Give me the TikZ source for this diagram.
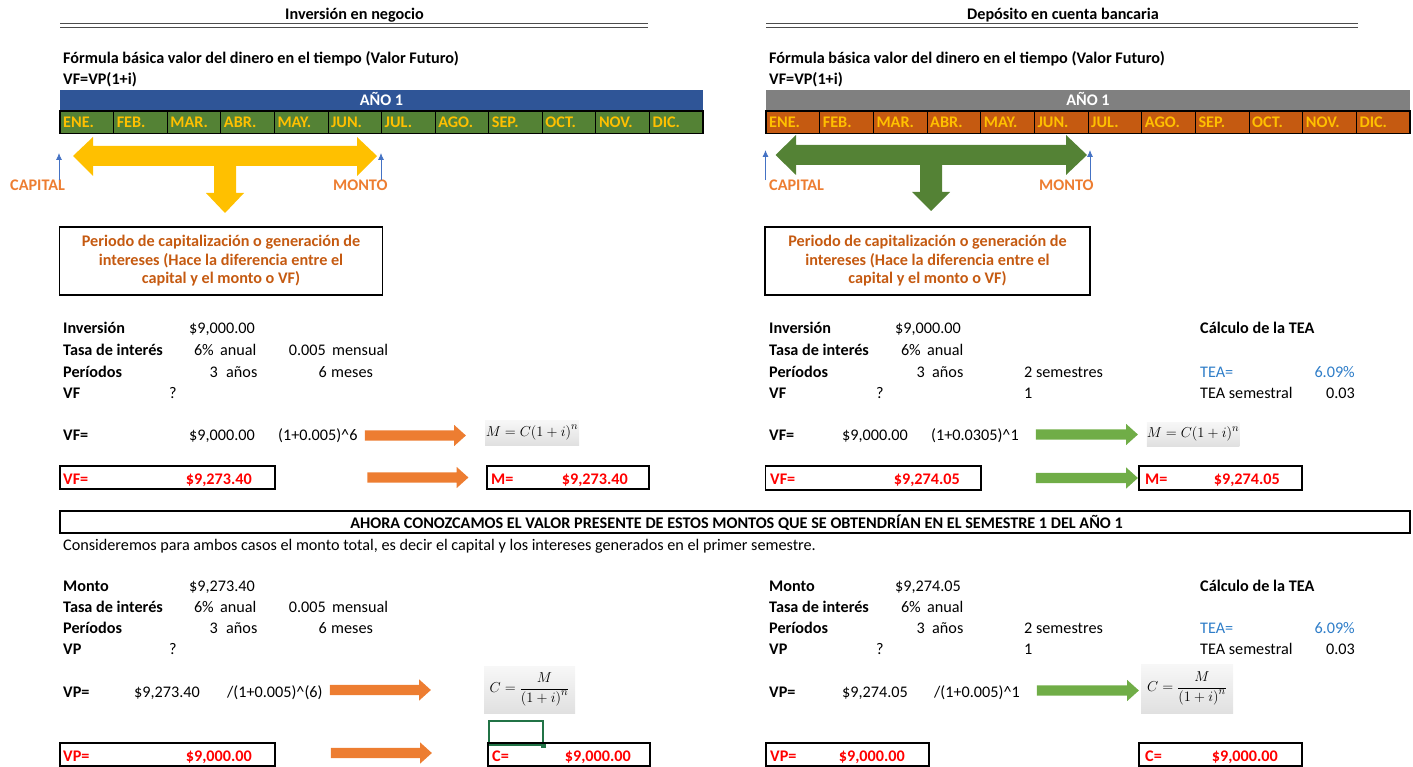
\documentclass[tikz,border=0pt]{standalone}
\usepackage{fontspec}
\setmainfont{Carlito}
\usetikzlibrary{positioning, arrows.meta, shapes.arrows, calc}
\definecolor{xlblue}{RGB}{47,85,151}
\definecolor{xlgreen}{RGB}{84,130,53}
\definecolor{xlgold}{RGB}{255,192,0}
\definecolor{xlgrey}{RGB}{128,128,128}
\definecolor{xlrust}{RGB}{197,90,17}
\definecolor{xlorange}{RGB}{237,125,49}
\definecolor{xllime}{RGB}{112,173,71}
\definecolor{xlsky}{RGB}{68,114,196}
\definecolor{xltea}{RGB}{46,125,200}
\definecolor{xlsel}{RGB}{33,115,70}
\newcommand\cellfont{\fontsize{16.2}{18.5}\selectfont}
\tikzset{
    head/.style={font=\cellfont\bfseries, anchor=base, inner sep=0pt},
    lbl/.style={font=\cellfont\bfseries, anchor=base west, inner sep=0pt},
    txt/.style={font=\cellfont, anchor=base west, inner sep=0pt},
    num/.style={font=\cellfont, anchor=base east, inner sep=0pt},
    month/.style={font=\cellfont\bfseries, text=xlgold, anchor=base west, inner sep=0pt},
    capmon/.style={font=\cellfont\bfseries, text=xlorange, anchor=base west, inner sep=0pt},
    redtxt/.style={font=\cellfont\bfseries, text=red, inner sep=0pt},
    cell/.style={draw, line width=0.8pt},
    dline/.style={draw=gray!60!black, line width=0.9pt},
    skyline/.style={draw=xlsky, line width=0.8pt},
    notebox/.style={draw, line width=1.8pt, minimum width=323, minimum height=68, align=center,
        font=\cellfont\bfseries, text=xlrust, inner sep=0pt},
    resbox/.style={draw, line width=1.8pt, minimum height=23.5, inner sep=0pt},
    bandbox/.style={draw, line width=1.8pt, minimum width=1350, minimum height=22.5, inner sep=0pt},
    fatarrow/.style={single arrow, fill=#1, inner xsep=0pt, inner ysep=5pt,
        single arrow head extend=5.5pt, single arrow tip angle=84, minimum height=101},
    formula/.style={inner sep=0pt, top color=gray!6, bottom color=gray!24,
        font=\fontsize{15}{17}\selectfont}
}

\begin{document}
\begin{tikzpicture}[x=1pt, y=-1pt, >={Latex[length=7pt, width=6pt]}]
  \useasboundingbox (0,0) rectangle (1413,767);

  % ---- Inversion en negocio
  \node(invT)[head] at (354.5,20){Inversión en negocio};
  \draw[dline] (60,23.5) -- (648,23.5);
  \draw[dline] (60,27) -- (648,27);
  \node(invF)[lbl] at (63,64){Fórmula básica valor del dinero en el tiempo (Valor Futuro)};
  \node(invE)[lbl] at (63,85){VF=VP(1+i)};

  \fill[xlblue] (60,90) rectangle (703,111);
  \node(invY)[head, text=white] at (381.5,106){AÑO 1};
  \fill[xlgreen] (60,111) rectangle (703,133.5);
  \foreach \m [count=\k from 0] in {ENE.,FEB.,MAR.,ABR.,MAY.,JUN.,JUL.,AGO.,SEP.,OCT.,NOV.,DIC.}{
    \draw[cell] ({60+\k*53.58},111) rectangle +(53.58,22.5);
    \node(invM\k)[month] at ({63+\k*53.58},127.5){\m};
  }
  \draw[line width=1.8pt] (60,111) rectangle (703,133.5);

  \fill[xlgold] (73,156) -- (93,137) -- (93,146) -- (357,146) -- (357,137) -- (377,156)
    -- (357,176) -- (357,166) -- (236,166) -- (236,193) -- (244,193) -- (225,213)
    -- (206,193) -- (214,193) -- (214,166) -- (93,166) -- (93,176) -- cycle;

  \node(invC)[capmon] at (10,191){CAPITAL};
  \node(invMo)[capmon] at (333,191){MONTO};
  \coordinate(invCt) at (59,153);
  \coordinate(invMt) at (381,153);
  \draw[skyline, ->] (invC.north -| invCt) -- (invCt);
  \draw[skyline, ->] (invMo.north -| invMt) -- (invMt);

  \node(invN)[notebox] at (221,261){Periodo de capitalización o generación de\\
    intereses (Hace la diferencia entre el\\ capital y el monto o VF)};

  \node(invI)[lbl] at (63,333){Inversión};
  \node(invIv)[num] at (255,333){\$9,000.00};
  \node(invTa)[lbl] at (63,355){Tasa de interés};
  \node(invTp)[num] at (214,355){6\%};
  \node(invTan)[txt] at (220,355){anual};
  \node(invTm)[num] at (326,355){0.005};
  \node(invTme)[txt] at (332,355){mensual};
  \node(invP)[lbl] at (63,377){Períodos};
  \node(invPa)[num] at (218,377){3};
  \node(invPan)[txt] at (226,377){años};
  \node(invPm)[num] at (327,377){6};
  \node(invPme)[txt] at (331,377){meses};
  \node(invV)[lbl] at (63,398){VF};
  \node(invQ)[txt] at (169,398){?};

  \node(invVe)[lbl] at (63,440){VF=};
  \node(invVc)[num] at (255,440){\$9,000.00};
  \node(invVf)[txt] at (278,440){(1+0.005)\textasciicircum6};
  \node(invA1)[fatarrow=xlorange] at (412.5,435.5){};
  \node(invF1)[formula, minimum width=94, minimum height=25] at (532,432.5){$M = C\bigl(1+i\bigr)^{n}$};

  \node(invR1)[resbox, minimum width=215] at (167.5,477.5){};
  \node(invR1a)[redtxt, anchor=base west] at (63,484){VF=};
  \node(invR1b)[redtxt, anchor=base east] at (252,484){\$9,273.40};
  \node(invA2)[fatarrow=xlorange] at (415,477.5){};
  \node(invR2)[resbox, minimum width=162] at (568,477.5){};
  \node(invR2a)[redtxt, anchor=base west] at (491,484){M=};
  \node(invR2b)[redtxt, anchor=base east] at (628,484){\$9,273.40};

  % ---- Deposito en cuenta bancaria
  \node(depT)[head] at (1063,20){Depósito en cuenta bancaria};
  \draw[dline] (766,23.5) -- (1358,23.5);
  \draw[dline] (766,27) -- (1358,27);
  \node(depF)[lbl] at (769,64){Fórmula básica valor del dinero en el tiempo (Valor Futuro)};
  \node(depE)[lbl] at (769,85){VF=VP(1+i)};

  \fill[xlgrey] (766,90) rectangle (1410,111);
  \node(depY)[head, text=white] at (1088,106){AÑO 1};
  \fill[xlrust] (766,111) rectangle (1410,133.5);
  \foreach \m [count=\k from 0] in {ENE.,FEB.,MAR.,ABR.,MAY.,JUN.,JUL.,AGO.,SEP.,OCT.,NOV.,DIC.}{
    \draw[cell] ({766+\k*53.67},111) rectangle +(53.67,22.5);
    \node(depM\k)[month] at ({769+\k*53.67},127.5){\m};
  }
  \draw[line width=1.8pt] (766,111) rectangle (1410,133.5);

  \fill[xlgreen] (775.5,155) -- (796,135) -- (796,145) -- (1066,145) -- (1066,135) -- (1087,155)
    -- (1066,175) -- (1066,165) -- (942,165) -- (942,192) -- (950,192) -- (931,211)
    -- (912,192) -- (920,192) -- (920,165) -- (796,165) -- (796,175) -- cycle;

  \node(depC)[capmon] at (769,191){CAPITAL};
  \node(depMo)[capmon] at (1039,191){MONTO};
  \coordinate(depCt) at (765.5,150);
  \coordinate(depMt) at (1090,150);
  \draw[skyline, ->] (depC.north -| depCt) -- (depCt);
  \draw[skyline, ->] (depMo.north -| depMt) -- (depMt);

  \node(depN)[notebox, minimum width=325] at (927.5,261){Periodo de capitalización o generación de\\
    intereses (Hace la diferencia entre el\\ capital y el monto o VF)};

  \node(depI)[lbl] at (769,333){Inversión};
  \node(depIv)[num] at (961,333){\$9,000.00};
  \node(depTa)[lbl] at (769,355){Tasa de interés};
  \node(depTp)[num] at (921,355){6\%};
  \node(depTan)[txt] at (927,355){anual};
  \node(depP)[lbl] at (769,377){Períodos};
  \node(depPa)[num] at (925,377){3};
  \node(depPan)[txt] at (932,377){años};
  \node(depPs)[txt] at (1024,377){2 semestres};
  \node(depV)[lbl] at (769,398){VF};
  \node(depQ)[txt] at (876,398){?};
  \node(depV1)[txt] at (1024,398){1};
  \node(depK)[lbl] at (1200,333){Cálculo de la TEA};
  \node(depKt)[txt, text=xltea] at (1200,377){TEA=};
  \node(depKv)[num, text=xltea] at (1355,377){6.09\%};
  \node(depKs)[txt] at (1200,398){TEA semestral};
  \node(depKsv)[num] at (1355,398){0.03};

  \node(depVe)[lbl] at (769,440){VF=};
  \node(depVc)[num] at (908,440){\$9,000.00};
  \node(depVf)[txt] at (931,440){(1+0.0305)\textasciicircum1};
  \node(depA1)[fatarrow=xllime, minimum height=102] at (1084,434.5){};
  \node(depF1)[formula, minimum width=90, minimum height=24] at (1193,434){$M = C\bigl(1+i\bigr)^{n}$};

  \node(depR1)[resbox, minimum width=215.5] at (873.25,478){};
  \node(depR1a)[redtxt, anchor=base west] at (770,484.5){VF=};
  \node(depR1b)[redtxt, anchor=base east] at (960,484.5){\$9,274.05};
  \node(depA2)[fatarrow=xllime, minimum height=102] at (1084,478){};
  \node(depR2)[resbox, minimum width=163] at (1220.5,478){};
  \node(depR2a)[redtxt, anchor=base west] at (1145,484.5){M=};
  \node(depR2b)[redtxt, anchor=base east] at (1280,484.5){\$9,274.05};

  % ---- valor presente
  \node(band)[bandbox] at (735,522){};
  \node(bandT)[head] at (736.5,528){AHORA CONOZCAMOS EL VALOR PRESENTE DE ESTOS MONTOS QUE SE OBTENDRÍAN EN EL SEMESTRE 1 DEL AÑO 1};
  \node(bandS)[txt] at (63,550){Consideremos para ambos casos el monto total, es decir el capital y los intereses generados en el primer semestre.};

  \node(vpI)[lbl] at (63,591){Monto};
  \node(vpIv)[num] at (255,591){\$9,273.40};
  \node(vpTa)[lbl] at (63,612){Tasa de interés};
  \node(vpTp)[num] at (214,612){6\%};
  \node(vpTan)[txt] at (220,612){anual};
  \node(vpTm)[num] at (326,612){0.005};
  \node(vpTme)[txt] at (332,612){mensual};
  \node(vpP)[lbl] at (63,633){Períodos};
  \node(vpPa)[num] at (218,633){3};
  \node(vpPan)[txt] at (226,633){años};
  \node(vpPm)[num] at (327,633){6};
  \node(vpPme)[txt] at (331,633){meses};
  \node(vpV)[lbl] at (63,654){VP};
  \node(vpQ)[txt] at (169,654){?};

  \node(vpVe)[lbl] at (63,697){VP=};
  \node(vpVc)[num] at (200,697){\$9,273.40};
  \node(vpVf)[txt] at (227,697){/(1+0.005)\textasciicircum(6)};
  \node(vpA1)[fatarrow=xlorange] at (377.5,690){};
  \node(vpF1)[formula, minimum width=91, minimum height=47] at (529.5,689.5){$C=\displaystyle\frac{M}{\bigl(1+i\bigr)^{n}}$};
  \draw[xlsel, line width=1.5pt] (489,721) rectangle (543,745);
  \fill[xlsel] (540.5,742.5) rectangle (545.5,747.5);

  \node(vpR1)[resbox, minimum width=215] at (167.5,754.5){};
  \node(vpR1a)[redtxt, anchor=base west] at (63,761){VP=};
  \node(vpR1b)[redtxt, anchor=base east] at (252,761){\$9,000.00};
  \node(vpA2)[fatarrow=xlorange] at (378.5,753){};
  \node(vpR2)[resbox, minimum width=162] at (569,754.5){};
  \node(vpR2a)[redtxt, anchor=base west] at (492,761){C=};
  \node(vpR2b)[redtxt, anchor=base east] at (631,761){\$9,000.00};

  \node(bvI)[lbl] at (769,591){Monto};
  \node(bvIv)[num] at (961,591){\$9,274.05};
  \node(bvTa)[lbl] at (769,612){Tasa de interés};
  \node(bvTp)[num] at (921,612){6\%};
  \node(bvTan)[txt] at (927,612){anual};
  \node(bvP)[lbl] at (769,633){Períodos};
  \node(bvPa)[num] at (925,633){3};
  \node(bvPan)[txt] at (932,633){años};
  \node(bvPs)[txt] at (1024,633){2 semestres};
  \node(bvV)[lbl] at (769,654){VP};
  \node(bvQ)[txt] at (876,654){?};
  \node(bvV1)[txt] at (1024,654){1};
  \node(bvK)[lbl] at (1200,591){Cálculo de la TEA};
  \node(bvKt)[txt, text=xltea] at (1200,633){TEA=};
  \node(bvKv)[num, text=xltea] at (1355,633){6.09\%};
  \node(bvKs)[txt] at (1200,654){TEA semestral};
  \node(bvKsv)[num] at (1355,654){0.03};

  \node(bvVe)[lbl] at (769,697){VP=};
  \node(bvVc)[num] at (908,697){\$9,274.05};
  \node(bvVf)[txt] at (934,697){/(1+0.005)\textasciicircum1};
  \node(bvA1)[fatarrow=xllime, minimum height=102] at (1085,690.5){};
  \node(bvF1)[formula, minimum width=92, minimum height=49] at (1187,688.5){$C=\displaystyle\frac{M}{\bigl(1+i\bigr)^{n}}$};

  \node(bvR1)[resbox, minimum width=163] at (847.5,754.5){};
  \node(bvR1a)[redtxt, anchor=base west] at (770,761){VP=};
  \node(bvR1b)[redtxt, anchor=base east] at (905,761){\$9,000.00};
  \node(bvR2)[resbox, minimum width=163] at (1220.5,754.5){};
  \node(bvR2a)[redtxt, anchor=base west] at (1145,761){C=};
  \node(bvR2b)[redtxt, anchor=base east] at (1278,761){\$9,000.00};
\end{tikzpicture}
\end{document}
